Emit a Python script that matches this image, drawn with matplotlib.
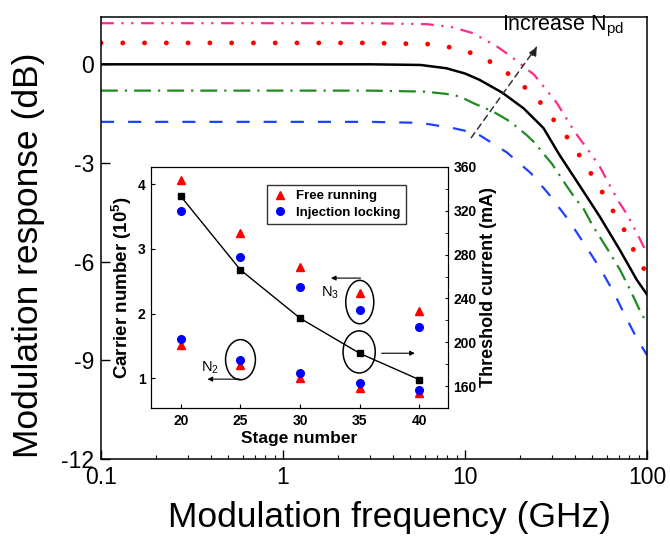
import matplotlib
matplotlib.use("Agg")
import matplotlib.pyplot as plt
from matplotlib.patches import Ellipse

plt.rcParams['font.family'] = ['Liberation Sans', 'DejaVu Sans']
plt.rcParams['axes.unicode_minus'] = False

# --- main plot: modulation response, 5 curves (increasing N_pd) ---
freq_pink = [0.1, 3, 6.2, 8.5, 11, 15, 18, 24, 28, 32, 40, 49, 55, 63, 70, 79, 90, 100]
resp_pink = [1.25, 1.25, 1.22, 1.13, 0.95, 0.54, 0.23, -0.32, -0.78, -1.18, -2.05, -2.71, -3.11, -3.72, -4.18, -4.63, -5.24, -5.75]

freq_red = [0.1, 3, 6.7, 8.8, 11.7, 15.4, 20, 25.3, 31.2, 38.6, 45.3, 52.9, 60.8, 69.5, 75.6, 84.1, 94.7, 100]
resp_red = [0.65, 0.65, 0.61, 0.49, 0.29, -0.07, -0.56, -1.08, -1.74, -2.40, -3.01, -3.59, -4.18, -4.73, -5.07, -5.63, -6.15, -6.4]

freq_black = [0.1, 1, 3, 5.7, 7.9, 10, 12, 16, 21, 27, 33, 43, 55, 71, 88, 100]
resp_black = [0, 0, 0, -0.02, -0.12, -0.28, -0.47, -0.86, -1.34, -1.94, -2.75, -3.72, -4.63, -5.65, -6.56, -7.0]

freq_green = [0.1, 3, 6, 7.9, 9.4, 11.1, 14.3, 17.7, 21.8, 24.3, 26.9, 29.9, 35.4, 40.2, 44.7, 50.7, 56.4, 62.7, 71.1, 80.7, 91.6, 100]
resp_green = [-0.8, -0.8, -0.83, -0.9, -0.98, -1.18, -1.44, -1.74, -2.15, -2.40, -2.71, -3.01, -3.62, -4.07, -4.38, -4.94, -5.34, -5.75, -6.25, -6.85, -7.5, -7.88]

freq_blue = [0.1, 3, 5.7, 8.6, 11.6, 17, 23, 28.6, 37, 45.6, 55.2, 65.4, 75.6, 87.8, 100]
resp_blue = [-1.75, -1.75, -1.78, -1.94, -2.10, -2.68, -3.31, -3.92, -4.73, -5.49, -6.2, -6.92, -7.63, -8.33, -8.84]

main_xticks = [0.1, 1, 10, 100]
main_xticklabels = ['0.1', '1', '10', '100']
main_yticks = [-12, -9, -6, -3, 0]
main_yticklabels = ['-12', '-9', '-6', '-3', '0']

# --- inset: carrier number / threshold current vs stage number ---
stage = [20, 25, 30, 35, 40]
free_n3 = [4.07, 3.25, 2.72, 2.32, 2.04]
free_n2 = [1.51, 1.21, 1.00, 0.86, 0.77]
lock_n3 = [3.59, 2.88, 2.41, 2.05, 1.80]
lock_n2 = [1.61, 1.28, 1.08, 0.93, 0.82]
threshold = [333, 266, 222, 190, 166]

fig = plt.figure(figsize=(6.7, 5.43), dpi=100)
ax = fig.add_axes([0.1507, 0.1547, 0.815, 0.8147])

ax.plot(freq_pink, resp_pink, color='#ff2a8a', lw=1.6, ls=(0, (5.8, 3.4, 1, 3.4, 1, 3.4)))
ax.plot(freq_red, resp_red, color='#ff0000', lw=3.5, ls=(0, (0.01, 4.47)), dash_capstyle='round')
ax.plot(freq_black, resp_black, color='black', lw=1.8)
ax.plot(freq_green, resp_green, color='#1f8a1f', lw=1.6, ls=(0, (7.6, 3.15, 1, 3.15)))
ax.plot(freq_blue, resp_blue, color='#2040ff', lw=1.6, ls=(0, (5.9, 6.3)))

ax.set_xscale('log')
ax.set_xlim(0.1, 100)
ax.set_ylim(-12, 1.45)
ax.set_xticks(main_xticks)
ax.set_xticklabels(main_xticklabels)
ax.set_yticks(main_yticks)
ax.set_yticklabels(main_yticklabels)
ax.tick_params(which='major', direction='in', length=6.5, width=1, labelsize=16.5, pad=5)
ax.tick_params(which='minor', direction='in', length=3, width=0.8)
ax.tick_params(axis='y', which='minor', left=False)
for s in ax.spines.values():
    s.set_linewidth(1.1)

ax.set_xlabel('Modulation frequency (GHz)', fontsize=25.5)
ax.set_ylabel('Modulation response (dB)', fontsize=25.5)
ax.xaxis.set_label_coords(0.529, -0.095)
ax.yaxis.set_label_coords(-0.1026, 0.46)

# dashed arrow "Increase N_pd"
ax.annotate('', xy=(25.2, 0.59), xytext=(10.6, -2.30),
            arrowprops=dict(arrowstyle='-', color='#333333', lw=1.1, ls=(0, (4, 3))))
ax.annotate('', xy=(25.2, 0.59), xytext=(23.0, 0.2),
            arrowprops=dict(arrowstyle='-|>', color='#222222', lw=1.0, mutation_scale=12))
ax.text(15.9, 1.52, 'Increase N$_\\mathregular{pd}$', fontsize=15.5, va='top', ha='left')

# inset
ax2 = fig.add_axes([0.2254, 0.2481, 0.4433, 0.4449])
ax2.plot(stage, free_n3, '^', color='red', ms=5.5, label='Free running')
ax2.plot(stage, free_n2, '^', color='red', ms=5.5)
ax2.plot(stage, lock_n3, 'o', color='blue', ms=5.5, label='Injection locking')
ax2.plot(stage, lock_n2, 'o', color='blue', ms=5.5)
ax2.set_xlim(17.5, 42.4)
ax2.set_ylim(0.54, 4.27)
ax2.set_xticks(stage)
ax2.set_yticks([1, 2, 3, 4])
ax2.set_xlabel('Stage number', fontsize=12.5, fontweight='bold', labelpad=2)
ax2.set_ylabel('Carrier number (10$^\\mathregular{5}$)', fontsize=13.5, fontweight='bold', labelpad=3)
ax2.tick_params(direction='in', length=3, labelsize=10, pad=4)

ax2r = ax2.twinx()
ax2r.plot(stage, threshold, 's-', color='black', ms=4.5, lw=1)
ax2r.set_ylim(140, 360)
ax2r.set_yticks(range(160, 361, 40))
ax2r.set_yticks(range(140, 361, 20), minor=True)
ax2r.set_ylabel('Threshold current (mA)', fontsize=13, fontweight='bold', labelpad=2)
ax2r.tick_params(which='both', direction='in', length=2.5, labelsize=10, pad=4)
for lab in ax2.get_xticklabels() + ax2.get_yticklabels() + ax2r.get_yticklabels():
    lab.set_fontweight('bold')

leg = ax2.legend(loc='upper left', bbox_to_anchor=(0.39, 0.925), fontsize=9.5, frameon=True,
                 fancybox=False, edgecolor='black', borderaxespad=0, handletextpad=0.6,
                 borderpad=0.4, labelspacing=0.3, handlelength=1.2,
                 prop={'weight': 'bold', 'size': 9.5})
leg.get_frame().set_linewidth(1.0)

# circled groups and arrows
for cx, cy, w, h in [(35, 2.18, 2.35, 0.67), (25, 1.29, 2.5, 0.62), (34.95, 1.41, 2.7, 0.65)]:
    ax2.add_patch(Ellipse((cx, cy), w, h, fill=False, ec='black', lw=1.1, zorder=5))
ax2.annotate('', xy=(32.35, 2.55), xytext=(35.3, 2.55),
             arrowprops=dict(arrowstyle='-|>', color='black', lw=0.8, mutation_scale=7))
ax2.annotate('', xy=(22.0, 0.99), xytext=(25.2, 0.99),
             arrowprops=dict(arrowstyle='-|>', color='black', lw=0.8, mutation_scale=7))
ax2.annotate('', xy=(39.85, 1.39), xytext=(36.6, 1.39),
             arrowprops=dict(arrowstyle='-|>', color='black', lw=0.8, mutation_scale=7))
ax2.text(32.5, 2.32, 'N$_\\mathregular{3}$', fontsize=10.5, ha='center', va='center')
ax2.text(22.4, 1.16, 'N$_\\mathregular{2}$', fontsize=10.5, ha='center', va='center')

fig.savefig('out.png', dpi=100)
